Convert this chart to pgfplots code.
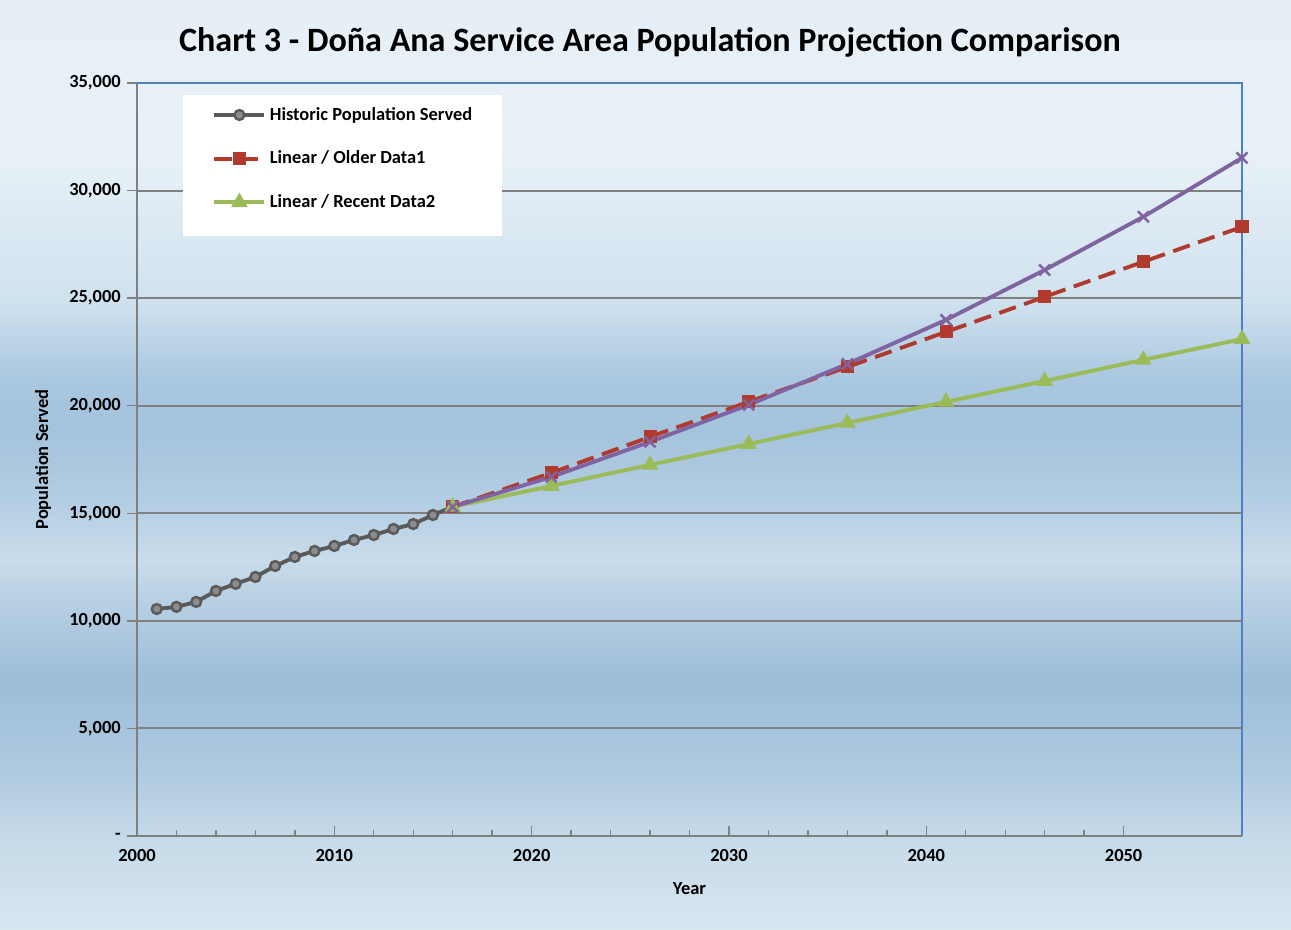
\documentclass[border=0pt]{standalone}
\usepackage{pgfplots}
\pgfplotsset{compat=1.18}
\usepackage{fontspec}
\setmainfont{Carlito}

\definecolor{histgray}{HTML}{5A5A5A}
\definecolor{histfill}{HTML}{8C8C8C}
\definecolor{oldred}{HTML}{B03A2E}
\definecolor{recgreen}{HTML}{9BBB59}
\definecolor{projpurple}{HTML}{8064A2}
\definecolor{gridgray}{HTML}{808080}
\definecolor{borderblue}{HTML}{4F81BD}

% sky background
\definecolor{bgA}{HTML}{D8E6F0}
\definecolor{bgB}{HTML}{C9DCEA}
\definecolor{bgC}{HTML}{ACC8DF}
\definecolor{bgD}{HTML}{9DBDD8}
\definecolor{bgE}{HTML}{B8D0E4}
\definecolor{bgF}{HTML}{C8DCEA}
\definecolor{bgG}{HTML}{B3CDE3}
\definecolor{bgH}{HTML}{A4C3DC}
\definecolor{bgI}{HTML}{A9C7DF}
\definecolor{bgJ}{HTML}{D0E2EF}
\definecolor{bgK}{HTML}{E8F1F7}
\definecolor{bgL}{HTML}{E6EFF6}
\pgfdeclareverticalshading{sky}{100bp}{
  color(0bp)=(bgA); color(25bp)=(bgA); color(29.3bp)=(bgB); color(34.14bp)=(bgC);
  color(38.44bp)=(bgD); color(42.74bp)=(bgE); color(44.89bp)=(bgF); color(48.12bp)=(bgG);
  color(51.88bp)=(bgH); color(54.57bp)=(bgI); color(58.87bp)=(bgJ); color(66.94bp)=(bgK);
  color(75bp)=(bgL); color(100bp)=(bgL)}

\begin{document}
\begin{tikzpicture}
\shade[shading=sky] (0,0) rectangle (25.82cm,18.6cm);

\node at (13.0cm,17.75cm) {\fontsize{19.4}{22}\selectfont\bfseries Chart 3 - Doña Ana Service Area Population Projection Comparison};

\begin{axis}[
    at={(2.74cm,1.88cm)}, anchor=south west,
    scale only axis,
    width=22.1cm, height=15.06cm,
    xmin=2000, xmax=2056,
    ymin=0, ymax=35000,
    scaled y ticks=false,
    axis x line*=bottom,
    axis y line*=left,
    axis line style={gridgray, line width=1.1pt},
    xtick={2000,2010,2020,2030,2040,2050},
    xticklabels={2000,2010,2020,2030,2040,2050},
    minor x tick num=4,
    ytick={0,5000,10000,15000,20000,25000,30000,35000},
    yticklabels={{-},{5,000},{10,000},{15,000},{20,000},{25,000},{30,000},{35,000}},
    x tick style={gridgray, line width=0.8pt},
    y tick style={gridgray, line width=0.8pt},
    xtick align=inside,
    ytick align=outside,
    major tick length=0.2cm,
    minor tick length=0.12cm,
    ymajorgrids,
    grid style={gridgray, line width=1.2pt},
    tick label style={font=\fontsize{10.5}{12}\selectfont\bfseries},
    xticklabel style={yshift=-0.15cm},
    xlabel={Year},
    ylabel={Population Served},
    label style={font=\fontsize{10.5}{12}\selectfont\bfseries},
    xlabel style={at={(axis description cs:0.5,-0.07)}, anchor=center},
    ylabel style={at={(axis description cs:-0.085,0.5)}, anchor=center},
    clip=false,
    legend cell align=left,
    legend style={
        at={(axis description cs:0.068,0.973)}, anchor=north west,
        draw=none, fill=none, inner sep=0pt,
        row sep=0.42cm,
        font=\fontsize{10.5}{12}\selectfont\bfseries,
    },
    legend image code/.code={
        \draw[mark repeat=2, mark phase=2] plot coordinates {(0cm,0cm) (0.5cm,0cm) (1.0cm,0cm)};
    },
]

% legend box
\fill[white] (axis description cs:0.0416,0.984) rectangle (axis description cs:0.330,0.797);

% top and right border
\draw[borderblue, line width=0.7pt] (rel axis cs:0,1) -- (rel axis cs:1,1) -- (rel axis cs:1,0);

\addplot[histgray, line width=2.2pt, mark=*, mark size=2.8pt,
    mark options={fill=histfill, draw=histgray, line width=1.4pt}] coordinates {
    (2001,10550) (2002,10650) (2003,10880) (2004,11390) (2005,11720)
    (2006,12040) (2007,12550) (2008,12970) (2009,13250) (2010,13480)
    (2011,13760) (2012,13990) (2013,14270) (2014,14500) (2015,14920)
    (2016,15300)
};
\addlegendentry{Historic Population Served}

\addplot[oldred, line width=2.2pt, dash pattern=on 10pt off 5pt, mark=square*, mark size=2.6pt,
    mark options={solid, fill=oldred}] coordinates {
    (2016,15300) (2021,16880) (2026,18550) (2031,20180) (2036,21800)
    (2041,23430) (2046,25060) (2051,26690) (2056,28310)
};
\addlegendentry{Linear / Older Data1}

\addplot[recgreen, line width=2.2pt, mark=triangle*, mark size=3.3pt,
    mark options={fill=recgreen}] coordinates {
    (2016,15300) (2021,16270) (2026,17250) (2031,18220) (2036,19200)
    (2041,20180) (2046,21150) (2051,22130) (2056,23100)
};
\addlegendentry{Linear / Recent Data2}

\addplot[projpurple, line width=2.2pt, mark=x, mark size=4.4pt,
    mark options={line width=1.4pt}, forget plot] coordinates {
    (2016,15300) (2021,16690) (2026,18320) (2031,20040) (2036,21940)
    (2041,23990) (2046,26310) (2051,28780) (2056,31520)
};

\end{axis}
\end{tikzpicture}
\end{document}
